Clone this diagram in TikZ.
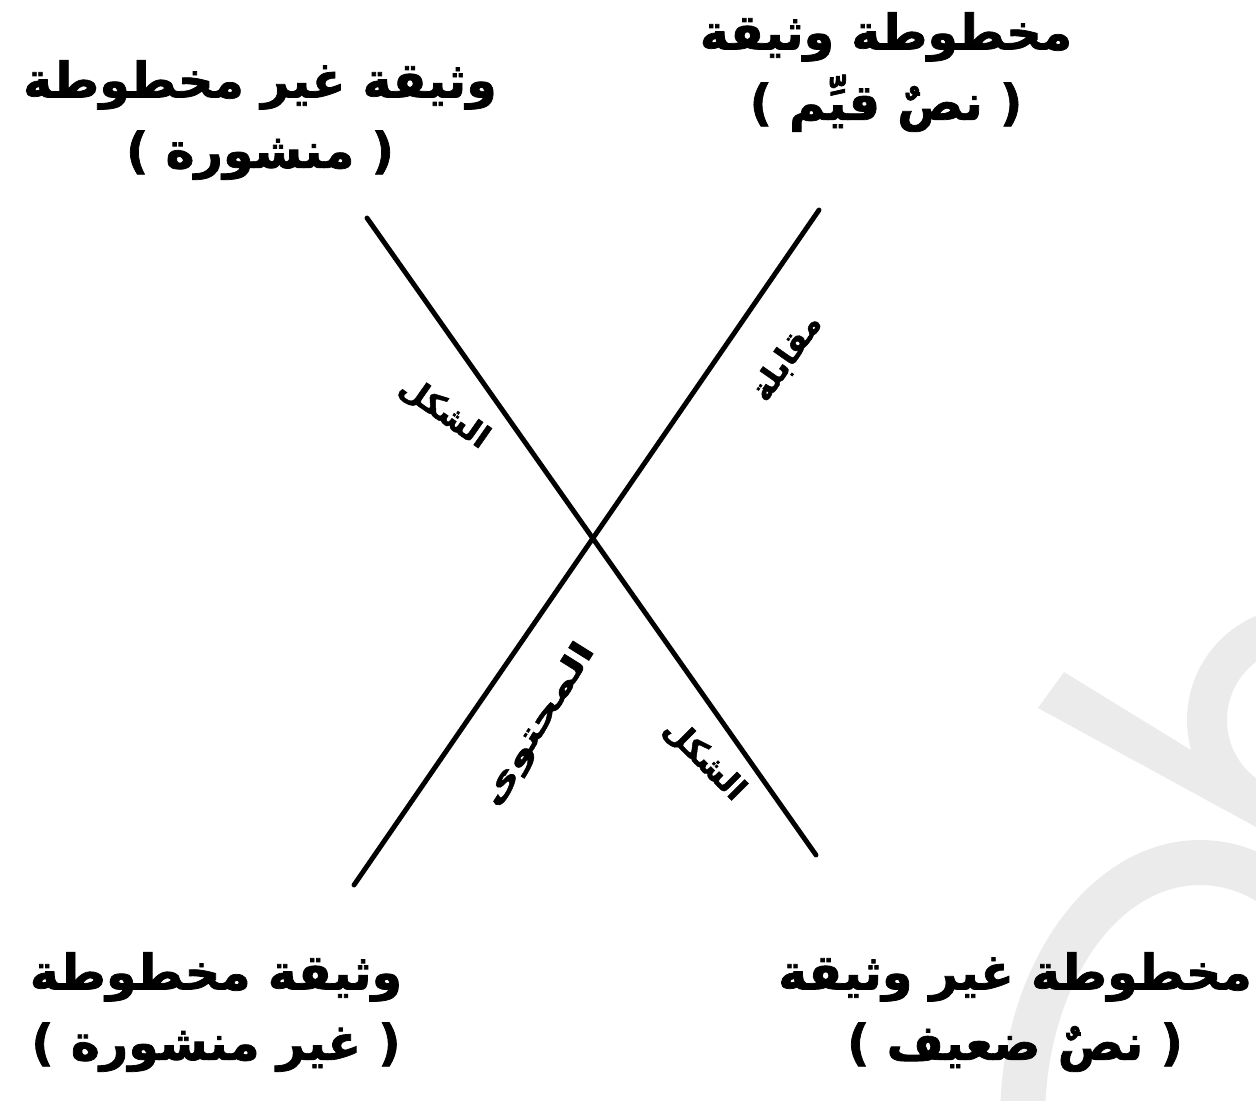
\documentclass[tikz,border=0pt]{standalone}
\usepackage{fontspec}
\TeXXeTstate=1
\newfontfamily\arabicfont[Script=Arabic, BoldFeatures={FakeBold=1.5}]{DejaVu Sans}
\usetikzlibrary{positioning}
\newcommand{\ar}[1]{\beginR #1\endR}

\begin{document}
\begin{tikzpicture}[x=0.02cm, y=-0.02cm,
  corner/.style={font=\arabicfont\bfseries\fontsize{28}{40}\selectfont, align=center, inner sep=0pt},
  tag/.style={font=\arabicfont\bfseries\fontsize{18}{20}\selectfont, inner sep=0pt},
  axis/.style={line width=2.8pt, line cap=round},
  wmark/.style={fill=black!8, draw=none}
]
\useasboundingbox (0,0) rectangle (1256,1100);

% ---- watermark (light gray) ----
\begin{scope}
\clip (0,0) rectangle (1256,1100);
\fill[wmark] (1064,672) -- (1256,790) -- (1256,827) -- (1038,708) -- cycle;
\fill[wmark, even odd rule] (1300,720) circle (113) (1300,720) circle (73);
\fill[wmark, even odd rule] (1200,1120) ellipse (200 and 280) (1200,1120) ellipse (155 and 235);
\end{scope}

% ---- the two crossing lines ----
\coordinate (tl) at (367,218);
\coordinate (br) at (816,855);
\coordinate (tr) at (819,210);
\coordinate (bl) at (354,885);
\draw[axis] (tl) -- (br);
\draw[axis] (tr) -- (bl);

% ---- labels along the lines ----
\node[tag, rotate=-35] (shaklA) at (444,413) {\ar{الشكل}};
\node[tag, rotate=55]  (muqab)  at (787,358) {\ar{مقابلة}};
\node[tag, rotate=58, xscale=1.45] (muhtw) at (539,725) {\ar{المحتوى}};
\node[tag, rotate=-45] (shaklB) at (704,760) {\ar{الشكل}};

% ---- corners ----
\node[corner] (ctl) at (260,120)  {\ar{وثيقة غير مخطوطة}\\\ar{( منشورة )}};
\node[corner] (ctr) at (886,72)   {\ar{مخطوطة وثيقة}\\\ar{( نصٌ قيِّم )}};
\node[corner] (cbl) at (216,1012) {\ar{وثيقة مخطوطة}\\\ar{( غير منشورة )}};
\node[corner] (cbr) at (1015,1012) {\ar{مخطوطة غير وثيقة}\\\ar{( نصٌ ضعيف )}};

\end{tikzpicture}
\end{document}
